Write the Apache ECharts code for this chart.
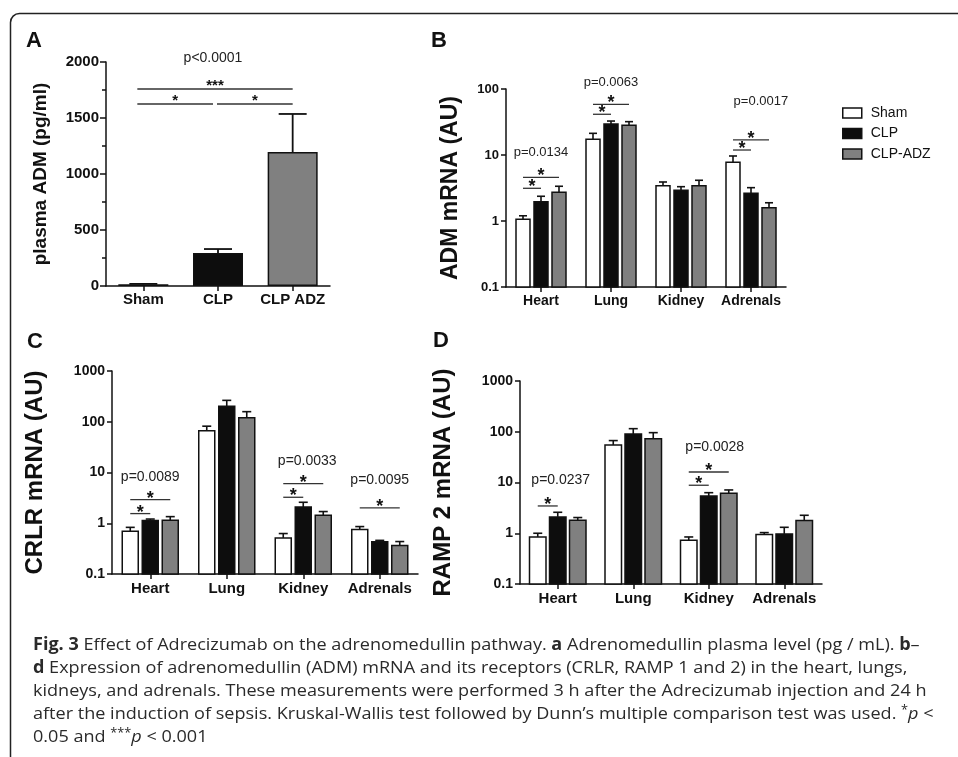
<!DOCTYPE html>
<html><head><meta charset="utf-8">
<script src="https://cdn.jsdelivr.net/npm/echarts@6/dist/echarts.min.js"></script>
<style>html,body{margin:0;padding:0;background:#fff}#c{width:958px;height:757px}</style>
</head><body><div id="c"></div>
<script>
// ---------- data ----------
const groups = ['Sham', 'CLP', 'CLP-ADZ'];
const catsA = ['Sham', 'CLP', 'CLP ADZ'];
const valsA = [15, 295, 1196];
const errA = [4, 35, 340];
const ticksA = [0, 500, 1000, 1500, 2000];
const organs = ['Heart', 'Lung', 'Kidney', 'Adrenals'];

// B: ADM mRNA (AU)
const admSham = [1.06, 17.3, 3.43, 7.77];
const admShamErr = [0.14, 4.0, 0.47, 1.89];
const admCLP = [1.96, 29.5, 2.92, 2.63];
const admCLPErr = [0.41, 3.2, 0.39, 0.57];
const admADZ = [2.72, 28.2, 3.43, 1.59];
const admADZErr = [0.64, 3.8, 0.71, 0.30];

// C: CRLR mRNA (AU)
const crlrSham = [0.695, 66.8, 0.513, 0.75];
const crlrShamErr = [0.135, 15, 0.114, 0.11];
const crlrCLP = [1.13, 201, 2.09, 0.43];
const crlrCLPErr = [0.08, 63, 0.5, 0.03];
const crlrADZ = [1.15, 120, 1.44, 0.364];
const crlrADZErr = [0.2, 38, 0.26, 0.072];

// D: RAMP 2 mRNA (AU)
const rampSham = [0.845, 55, 0.73, 0.94];
const rampShamErr = [0.155, 12, 0.115, 0.09];
const rampCLP = [2.1, 90.5, 5.43, 0.97];
const rampCLPErr = [0.49, 24.5, 0.87, 0.34];
const rampADZ = [1.8, 73, 6.15, 1.78];
const rampADZErr = [0.24, 23, 0.98, 0.48];

// significance brackets: [category, fromBar, toBar, level]
const sigA = [[0, 2, 1759, '***'], [0, 1, 1625, '*'], [1, 2, 1625, '*']];
const pA = [[1, 2036, 'p<0.0001']];
const sigB = [[0, 0, 1, 3.13], [0, 0, 2, 4.59], [1, 0, 1, 41.4], [1, 0, 2, 58.6], [3, 0, 1, 11.9], [3, 0, 2, 16.9]];
const pB = [[0, 0, 10.8, 'p=0.0134'], [1, 0, 124, 'p=0.0063'], [3, 0.55, 64.2, 'p=0.0017']];
const sigC = [[0, 0, 1, 1.55], [0, 0, 2, 2.93], [2, 0, 1, 3.25], [2, 0, 2, 6.04], [3, 0, 2, 2.0]];
const pC = [[0, 0, 8.15, 'p=0.0089'], [2, 0.2, 16.6, 'p=0.0033'], [3, 0, 7.0, 'p=0.0095']];
const sigD = [[0, 0, 1, 3.45], [2, 0, 1, 8.83], [2, 0, 2, 16.1]];
const pD = [[0, 0.15, 10.9, 'p=0.0237'], [2, 0.3, 50.2, 'p=0.0028']];

const captionLines = [
  '{b|Fig. 3} Effect of Adrecizumab on the adrenomedullin pathway. {b|a} Adrenomedullin plasma level (pg / mL). {b|b}–',
  '{b|d} Expression of adrenomedullin (ADM) mRNA and its receptors (CRLR, RAMP 1 and 2) in the heart, lungs,',
  'kidneys, and adrenals. These measurements were performed 3 h after the Adrecizumab injection and 24 h',
  'after the induction of sepsis. Kruskal-Wallis test followed by Dunn’s multiple comparison test was used. {s|*}{i|p} <',
  '0.05 and {s|***}{i|p} < 0.001'
];

// ---------- style ----------
const FONT = 'Liberation Sans, Arial, sans-serif';
const INK = '#111';
const fills = ['#ffffff', '#0d0d0d', '#808080'];

const chart = echarts.init(document.getElementById('c'), null, {renderer: 'canvas', width: 958, height: 757});

function catAxis(gi, data, fs, margin) {
  return {type: 'category', gridIndex: gi, data: data, boundaryGap: true,
    axisLine: {show: true, lineStyle: {color: INK, width: 1.5}},
    axisTick: {show: true, alignWithLabel: true, length: 5, lineStyle: {color: INK, width: 1.5}},
    axisLabel: {color: INK, fontWeight: 'bold', fontSize: fs, fontFamily: FONT, margin: margin, interval: 0},
    splitLine: {show: false}};
}
function logAxis(gi, max, fs, name, nameFs, gap) {
  return {type: 'log', logBase: 10, gridIndex: gi, min: 0.1, max: max,
    name: name, nameLocation: 'middle', nameGap: gap,
    nameTextStyle: {fontWeight: 'bold', fontSize: nameFs, color: INK, fontFamily: FONT},
    axisLine: {show: true, lineStyle: {color: INK, width: 1.5}},
    axisTick: {show: true, length: 5, lineStyle: {color: INK, width: 1.5}},
    axisLabel: {color: INK, fontWeight: 'bold', fontSize: fs, fontFamily: FONT, margin: 7,
      formatter: function (v) { return String(+(+v).toPrecision(3)); }},
    splitLine: {show: false}, minorTick: {show: false}};
}

function barRender(gi, bw, step, cap) {
  return function (params, api) {
    const cat = api.value(0), v = api.value(1), e = api.value(2);
    const cs = params.coordSys;
    const top = api.coord([cat, v]);
    const et = api.coord([cat, v + e]);
    const cx = top[0] + (gi - 1) * step;
    const base = cs.y + cs.height;
    return {type: 'group', children: [
      {type: 'line', shape: {x1: cx, y1: top[1], x2: cx, y2: et[1]}, style: {stroke: INK, lineWidth: 1.6}},
      {type: 'line', shape: {x1: cx - cap / 2, y1: et[1], x2: cx + cap / 2, y2: et[1]}, style: {stroke: INK, lineWidth: 1.6}},
      {type: 'rect', shape: {x: cx - bw / 2, y: top[1], width: bw, height: base - top[1]},
        style: {fill: fills[gi], stroke: INK, lineWidth: 1.5}}
    ]};
  };
}
function errRenderA(cap) {
  return function (params, api) {
    const cat = api.value(0), v = api.value(1), e = api.value(2);
    const top = api.coord([cat, v]);
    const et = api.coord([cat, v + e]);
    return {type: 'group', children: [
      {type: 'line', shape: {x1: top[0], y1: top[1], x2: top[0], y2: et[1]}, style: {stroke: INK, lineWidth: 1.8}},
      {type: 'line', shape: {x1: top[0] - cap / 2, y1: et[1], x2: top[0] + cap / 2, y2: et[1]}, style: {stroke: INK, lineWidth: 1.8}}
    ]};
  };
}
function sigRender(step, arr) {
  return function (params, api) {
    const d = arr[params.dataIndex];
    const c = api.coord([d[0], d[3]]);
    const x0 = c[0] + (d[1] - 1) * step, x1 = c[0] + (d[2] - 1) * step;
    return {type: 'group', children: [
      {type: 'line', shape: {x1: x0, y1: c[1], x2: x1, y2: c[1]}, style: {stroke: '#333', lineWidth: 1.3}},
      {type: 'text', x: (x0 + x1) / 2, y: c[1] - 1, style: {text: '*', fill: INK, fontSize: 18, fontWeight: 'bold', fontFamily: FONT, align: 'center', verticalAlign: 'middle'}}
    ]};
  };
}
function sigRenderA(arr) {
  return function (params, api) {
    const d = arr[params.dataIndex];
    const a = api.coord([d[0], d[2]]);
    const b = api.coord([d[1], d[2]]);
    let x0 = a[0] - 6, x1 = b[0];
    if (d[3] === '*') { if (d[0] === 0) { x1 = b[0] - 5; } else { x0 = a[0] - 1; } }
    return {type: 'group', children: [
      {type: 'line', shape: {x1: x0, y1: a[1], x2: x1, y2: a[1]}, style: {stroke: '#333', lineWidth: 1.4}},
      {type: 'text', x: (x0 + x1) / 2, y: a[1] - 3, style: {text: d[3], fill: INK, fontSize: 15, fontWeight: 'bold', fontFamily: FONT, align: 'center', verticalAlign: 'middle'}}
    ]};
  };
}
function pRender(step, arr, fs) {
  return function (params, api) {
    const d = arr[params.dataIndex];
    const c = api.coord([d[0], d[2]]);
    return {type: 'text', x: c[0] + d[1] * step, y: c[1], style: {text: d[3], fill: '#222', fontSize: fs, fontFamily: FONT, align: 'center', verticalAlign: 'middle'}};
  };
}

function groupSeries(gridIdx, vals, errs, bw, step, cap) {
  return vals.map(function (arr, gi) {
    return {type: 'custom', name: groups[gi], xAxisIndex: gridIdx, yAxisIndex: gridIdx,
      itemStyle: {color: fills[gi], borderColor: INK, borderWidth: 1.5},
      renderItem: barRender(gi, bw, step, cap),
      data: arr.map(function (v, i) { return [i, v, errs[gi][i]]; })};
  });
}

// caption scale
const mctx = document.createElement('canvas').getContext('2d');
mctx.font = '17px "Open Sans"';
const wRef = mctx.measureText('d Expression of adrenomedullin (ADM) mRNA and its receptors (CRLR, RAMP 1 and 2) in the heart, lungs,').width;
const capScale = 874 / wRef;

const captionGraphics = captionLines.map(function (t, i) {
  return {type: 'text', x: 33, y: 645 + i * 23, scaleX: capScale, silent: true,
    style: {text: t, fill: '#2a2a2a', fontSize: 17, fontFamily: 'Open Sans', verticalAlign: 'middle', align: 'left',
      rich: {
        b: {fontWeight: 'bold', fontSize: 17, fontFamily: 'Open Sans', fill: '#2a2a2a'},
        i: {fontStyle: 'italic', fontSize: 17, fontFamily: 'Open Sans', fill: '#2a2a2a'},
        s: {fontSize: 12, fontFamily: 'Open Sans', fill: '#2a2a2a', verticalAlign: 'top', padding: [0, 0, 6, 0]}
      }}};
});

function letter(t, x, y) {
  return {type: 'text', x: x, y: y, silent: true, style: {text: t, fill: INK, fontSize: 22, fontWeight: 'bold', fontFamily: FONT, verticalAlign: 'middle'}};
}

const option = {
  backgroundColor: '#fff',
  animation: false,
  grid: [
    {left: 106, top: 62, width: 224, height: 224, outerBoundsMode: 'none'},
    {left: 506, top: 89, width: 280, height: 198, outerBoundsMode: 'none'},
    {left: 112, top: 371, width: 306, height: 203, outerBoundsMode: 'none'},
    {left: 520, top: 381, width: 302, height: 203, outerBoundsMode: 'none'}
  ],
  xAxis: [catAxis(0, catsA, 15, 6), catAxis(1, organs, 14, 7), catAxis(2, organs, 15, 7), catAxis(3, organs, 15, 7)],
  yAxis: [
    {type: 'value', gridIndex: 0, min: ticksA[0], max: ticksA[ticksA.length - 1], interval: 500,
      name: 'plasma ADM (pg/ml)', nameLocation: 'middle', nameGap: 56,
      nameTextStyle: {fontWeight: 'bold', fontSize: 19, color: INK, fontFamily: FONT},
      axisLine: {show: true, lineStyle: {color: INK, width: 1.5}},
      axisTick: {show: true, length: 6, lineStyle: {color: INK, width: 1.5}},
      minorTick: {show: true, splitNumber: 2, length: 4, lineStyle: {color: INK, width: 1.5}},
      axisLabel: {color: INK, fontWeight: 'bold', fontSize: 15, fontFamily: FONT, margin: 7,
        formatter: function (v) { return String(v); }},
      splitLine: {show: false}},
    logAxis(1, 100, 13, 'ADM mRNA (AU)', 23, 44),
    logAxis(2, 1000, 14, 'CRLR mRNA (AU)', 24, 65),
    logAxis(3, 1000, 14, 'RAMP 2 mRNA (AU)', 24, 65)
  ],
  legend: {left: 837, top: 101, orient: 'vertical', icon: 'rect', itemWidth: 19, itemHeight: 10, itemGap: 6.5,
    textStyle: {fontSize: 14, color: INK, fontFamily: FONT, padding: [0, 0, 0, 4]},
    selectedMode: false,
    data: [
      {name: 'Sham', itemStyle: {color: '#fff', borderColor: INK, borderWidth: 1.5}},
      {name: 'CLP', itemStyle: {color: '#0d0d0d', borderColor: INK, borderWidth: 1.5}},
      {name: 'CLP-ADZ', itemStyle: {color: '#808080', borderColor: INK, borderWidth: 1.5}}
    ]},
  graphic: [
    {type: 'rect', silent: true, shape: {x: 10.5, y: 13.5, width: 1000, height: 770, r: 9}, style: {fill: 'none', stroke: '#222', lineWidth: 1.5}},
    letter('A', 26, 41), letter('B', 431, 41), letter('C', 27, 342), letter('D', 433, 341)
  ].concat(captionGraphics),
  series: [
    {type: 'bar', name: 'plasma ADM', xAxisIndex: 0, yAxisIndex: 0, barWidth: 50,
      data: valsA.map(function (v, i) { return {value: v, itemStyle: {color: fills[i], borderColor: INK, borderWidth: 1.5}}; })},
    {type: 'custom', name: 'errA', xAxisIndex: 0, yAxisIndex: 0, renderItem: errRenderA(28),
      data: valsA.map(function (v, i) { return [i, v, errA[i]]; })},
    {type: 'custom', name: 'sigA', xAxisIndex: 0, yAxisIndex: 0, renderItem: sigRenderA(sigA),
      data: sigA.map(function (d) { return [d[0], d[2]]; })},
    {type: 'custom', name: 'pA', xAxisIndex: 0, yAxisIndex: 0,
      renderItem: function (params, api) {
        const d = pA[params.dataIndex]; const c = api.coord([d[0], d[1]]);
        return {type: 'text', x: c[0] - 5, y: c[1], style: {text: d[2], fill: '#222', fontSize: 14, fontFamily: FONT, align: 'center', verticalAlign: 'middle'}};
      },
      data: pA.map(function (d) { return [d[0], d[1]]; })}
  ]
  .concat(groupSeries(1, [admSham, admCLP, admADZ], [admShamErr, admCLPErr, admADZErr], 14, 18, 8))
  .concat(groupSeries(2, [crlrSham, crlrCLP, crlrADZ], [crlrShamErr, crlrCLPErr, crlrADZErr], 16, 20, 9))
  .concat(groupSeries(3, [rampSham, rampCLP, rampADZ], [rampShamErr, rampCLPErr, rampADZErr], 16.5, 20, 9))
  .concat([
    {type: 'custom', name: 'sigB', xAxisIndex: 1, yAxisIndex: 1, renderItem: sigRender(18, sigB), data: sigB.map(function (d) { return [d[0], d[3]]; })},
    {type: 'custom', name: 'sigC', xAxisIndex: 2, yAxisIndex: 2, renderItem: sigRender(20, sigC), data: sigC.map(function (d) { return [d[0], d[3]]; })},
    {type: 'custom', name: 'sigD', xAxisIndex: 3, yAxisIndex: 3, renderItem: sigRender(20, sigD), data: sigD.map(function (d) { return [d[0], d[3]]; })},
    {type: 'custom', name: 'pB', xAxisIndex: 1, yAxisIndex: 1, renderItem: pRender(18, pB, 13), data: pB.map(function (d) { return [d[0], d[2]]; })},
    {type: 'custom', name: 'pC', xAxisIndex: 2, yAxisIndex: 2, renderItem: pRender(20, pC, 14), data: pC.map(function (d) { return [d[0], d[2]]; })},
    {type: 'custom', name: 'pD', xAxisIndex: 3, yAxisIndex: 3, renderItem: pRender(20, pD, 14), data: pD.map(function (d) { return [d[0], d[2]]; })}
  ])
};
chart.setOption(option);
</script>
</body></html>
